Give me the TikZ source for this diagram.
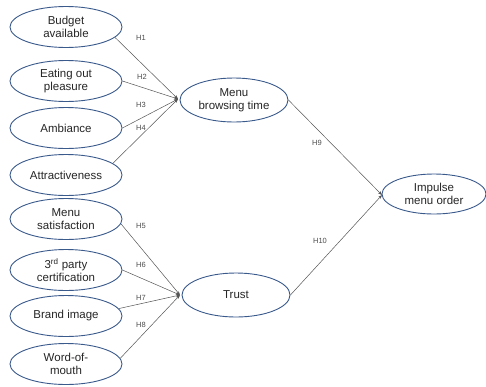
\documentclass[tikz,border=0pt]{standalone}
\usepackage{fontspec}
\setmainfont{Liberation Sans}
\usetikzlibrary{shapes.geometric,arrows.meta}
\definecolor{edgeblue}{HTML}{3A5A8C}
\definecolor{linegray}{HTML}{555555}
\tikzset{
  construct/.style={ellipse,draw=edgeblue,line width=0.9pt,fill=white,inner sep=0pt,
    minimum width=112pt,minimum height=41pt,align=center,font=\fontsize{11.5}{13}\selectfont,text=black!85},
  path/.style={draw=linegray,line width=0.5pt,-{Stealth[length=4pt,width=3pt]}},
  hlab/.style={font=\fontsize{7.5}{9}\selectfont,text=black!70,inner sep=1pt}
}
\begin{document}
\begin{tikzpicture}[x=1pt,y=-1pt]
\useasboundingbox (0,0) rectangle (486,386);
% left constructs
\node[construct] (bud) at (66,27) {Budget\\available};
\node[construct] (eat) at (66,81) {Eating out\\pleasure};
\node[construct] (amb) at (66,128) {Ambiance};
\node[construct] (att) at (66,175) {Attractiveness};
\node[construct] (sat) at (66,219) {Menu\\satisfaction};
\node[construct] (cer) at (66,270) {3\textsuperscript{rd} party\\certification};
\node[construct] (bra) at (66,316) {Brand image};
\node[construct] (wom) at (66,364) {Word-of-\\mouth};
% mediators
\node[construct,minimum width=108pt,minimum height=44pt] (mbt) at (234,100) {Menu\\browsing time};
\node[construct,minimum width=108pt,minimum height=44pt] (tru) at (236,295) {Trust};
% outcome
\node[construct,minimum width=104pt,minimum height=40pt] (imp) at (434,194) {Impulse\\menu order};
% convergence points
\coordinate (cm) at (178,99);
\coordinate (ct) at (180,295);
\coordinate (ci) at (382,195);
% paths
\draw[path] (bud.-12) -- (cm);
\draw[path] (eat.east) -- (cm);
\draw[path] (amb.east) -- (cm);
\draw[path] (att.14) -- (cm);
\draw[path] (sat.-5) -- (ct);
\draw[path] (cer.east) -- (ct);
\draw[path] (bra.8) -- (ct);
\draw[path] (wom.6) -- (ct);
\draw[path] (mbt.east) -- (ci);
\draw[path] (tru.east) -- (ci);
% labels
\node[hlab] (h1) at (141,38) {H1};
\node[hlab] (h2) at (142,77) {H2};
\node[hlab] (h3) at (141,105) {H3};
\node[hlab] (h4) at (141,128) {H4};
\node[hlab] (h5) at (141,226) {H5};
\node[hlab] (h6) at (141,265) {H6};
\node[hlab] (h7) at (141,298) {H7};
\node[hlab] (h8) at (141,325) {H8};
\node[hlab] (h9) at (317,143) {H9};
\node[hlab] (h10) at (320,241) {H10};
\end{tikzpicture}
\end{document}
